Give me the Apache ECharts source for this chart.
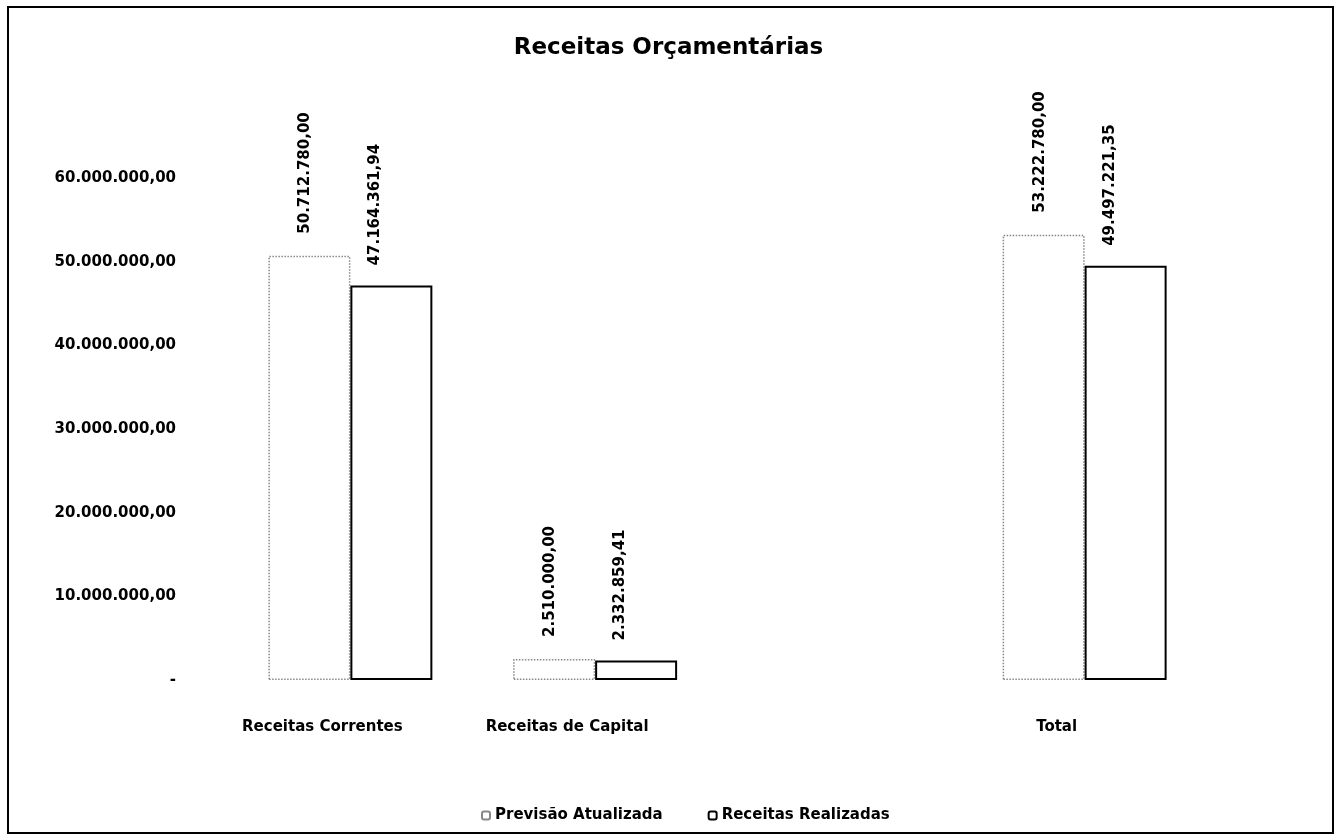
<!DOCTYPE html>
<html>
<head>
<meta charset="utf-8">
<script src="https://cdn.jsdelivr.net/npm/echarts@6/dist/echarts.min.js"></script>
<style>html,body{margin:0;padding:0;background:#fff}#c{width:1337px;height:840px}</style>
</head>
<body>
<div id="c"></div>
<script>
var categories = ['Receitas Correntes', 'Receitas de Capital', '', 'Total'];
var seriesNames = ['Previsão Atualizada', 'Receitas Realizadas'];
var previsao = [50712780.00, 2510000.00, null, 53222780.00];
var realizadas = [47164361.94, 2332859.41, null, 49497221.35];
var yTicks = [0, 10000000, 20000000, 30000000, 40000000, 50000000, 60000000];

function fmt(v) {
  if (v === 0) return '-';
  var neg = v < 0; v = Math.abs(v);
  var s = v.toFixed(2).split('.');
  var ip = s[0].replace(/\B(?=(\d{3})+(?!\d))/g, '.');
  return (neg ? '-' : '') + ip + ',' + s[1];
}

var F = 'DejaVu Sans';
function lbl(dx, dist) {
  return {
    show: true, position: 'top', rotate: 90, align: 'left', verticalAlign: 'middle',
    distance: dist, offset: [0, dx], color: '#000', fontFamily: F, fontWeight: 'bold', fontSize: 15,
    formatter: function (p) { return fmt(p.value); }
  };
}
var chart = echarts.init(document.getElementById('c'));
chart.setOption({
  backgroundColor: '#fff',
  animation: false,
  title: {
    text: 'Receitas Orçamentárias', left: 'center', top: 32,
    textStyle: { fontFamily: F, fontWeight: 'bold', fontSize: 23, color: '#000' }
  },
  legend: {
    top: 803, left: 476, itemWidth: 8, itemHeight: 8, itemGap: 45,
    data: seriesNames,
    textStyle: { fontFamily: F, fontWeight: 'bold', fontSize: 15, color: '#000' }
  },
  graphic: [{
    type: 'rect', shape: { x: 8, y: 7, width: 1325, height: 826 },
    style: { fill: 'none', stroke: '#000', lineWidth: 2 }, silent: true
  }],
  grid: { left: 228, right: 130, top: 178, bottom: 160 },
  xAxis: {
    type: 'category', data: categories,
    axisLine: { show: false }, axisTick: { show: false },
    axisLabel: {
      margin: 40, padding: [0, 56, 0, 0], color: '#000',
      fontFamily: F, fontWeight: 'bold', fontSize: 15
    }
  },
  yAxis: {
    type: 'value', min: yTicks[0], max: yTicks[yTicks.length - 1], interval: 10000000,
    axisLine: { show: false }, axisTick: { show: false }, splitLine: { show: false },
    axisLabel: {
      margin: 52, color: '#000', fontFamily: F, fontWeight: 'bold', fontSize: 15,
      formatter: fmt
    }
  },
  series: [{
    name: seriesNames[0], type: 'bar', data: previsao,
    barGap: '0%', barCategoryGap: '33%',
    itemStyle: { color: '#fff', borderColor: '#888', borderWidth: 1.5, borderType: 'dotted' },
    label: lbl(-4, 22)
  }, {
    name: seriesNames[1], type: 'bar', data: realizadas,
    itemStyle: { color: '#fff', borderColor: '#000', borderWidth: 2 },
    label: lbl(-16, 20)
  }]
});
</script>
</body>
</html>
